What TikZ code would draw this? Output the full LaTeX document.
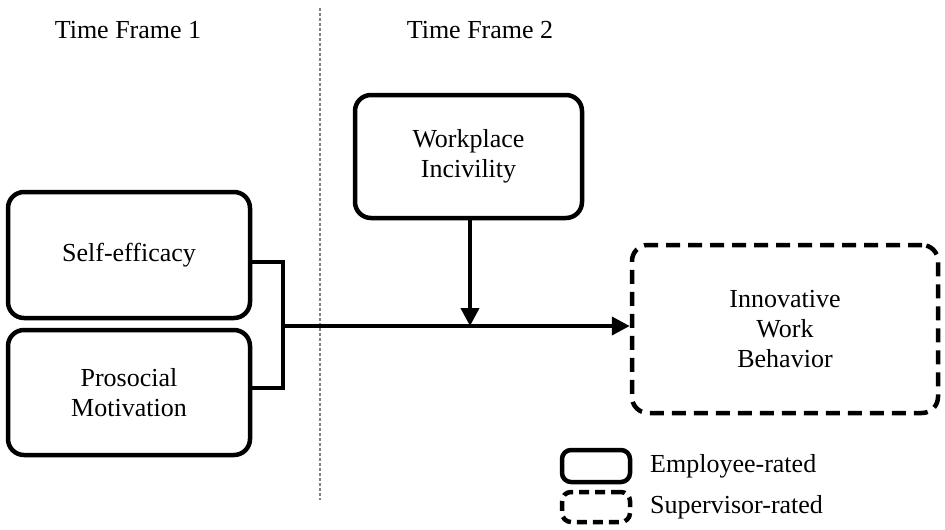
\documentclass[tikz,border=0pt]{standalone}
\usepackage{fontspec}
\setmainfont{Liberation Serif}
\usetikzlibrary{arrows.meta}
\begin{document}
\begin{tikzpicture}[x=1pt,y=-1pt,
  box/.style={draw,line width=4.5pt,rounded corners=16pt,align=center,font=\fontsize{26}{30}\selectfont,inner sep=0pt},
  dbox/.style={box,dash pattern=on 14pt off 8pt},
  lbl/.style={font=\fontsize{26}{30}\selectfont,inner sep=0pt},
  arr/.style={line width=4pt,-{Triangle[length=18pt,width=18pt]}}]
\useasboundingbox (0,0) rectangle (945,530);
\node[lbl] (t1) at (128,30) {Time Frame 1};
\node[lbl] (t2) at (480,30) {Time Frame 2};
\coordinate (dt) at (320,8); \coordinate (db) at (320,500);
\draw[gray,line width=1.2pt,dash pattern=on 2.5pt off 2.5pt] (dt) -- (db);
\node[box,minimum width=227pt,minimum height=123pt] (wi) at (468.5,156.5) {Workplace\\Incivility};
\node[box,minimum width=242pt,minimum height=126pt] (se) at (129,255) {Self-efficacy};
\node[box,minimum width=242pt,minimum height=125pt] (pm) at (129,392.5) {Prosocial\\Motivation};
\node[dbox,minimum width=306pt,minimum height=168pt] (iw) at (785,329) {Innovative\\Work\\Behavior};
\coordinate (b1) at (283,262); \coordinate (b2) at (283,388); \coordinate (bm) at (283,326);
\draw[line width=4pt] (se.east |- b1) -- (b1) -- (b2) -- (pm.east |- b2);
\draw[arr] (bm) -- (iw.west |- bm);
\coordinate (m) at (470,326);
\draw[arr] (wi.south -| m) -- (m);
\node[box,rounded corners=9pt,minimum width=68pt,minimum height=32pt] (le) at (596,466) {};
\node[dbox,rounded corners=9pt,dash pattern=on 10pt off 6pt,minimum width=68pt,minimum height=30pt] (ls) at (596,507) {};
\node[lbl,anchor=west] (let) at (650,466) {Employee-rated};
\node[lbl,anchor=west] (lst) at (650,507) {Supervisor-rated};
\end{tikzpicture}
\end{document}
